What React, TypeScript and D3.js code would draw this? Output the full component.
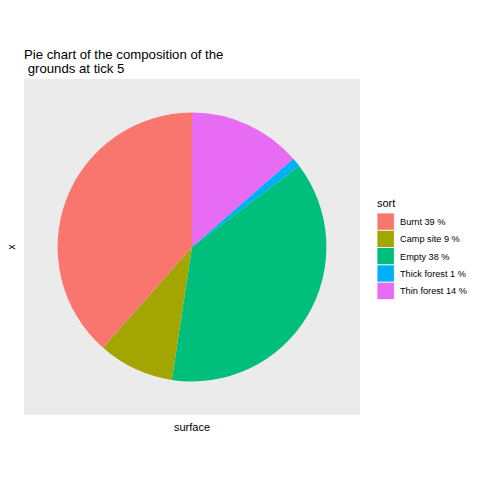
import React from "react";
import * as d3 from "d3";

// composition at tick 5 (legend order)
const sorts = ["Burnt", "Camp site", "Empty", "Thick forest", "Thin forest"];
const shares = [38.5, 9.1, 37.7, 1.1, 13.6];
const legendLabels = ["Burnt 39 %", "Camp site 9 %", "Empty 38 %", "Thick forest 1 %", "Thin forest 14 %"];
const colors = ["#F8766D", "#A3A500", "#00BF7D", "#00B0F6", "#E76BF3"];

const font = "'Liberation Sans', Arial, sans-serif";

export default function App() {
  const panel = { x: 24, y: 79, w: 336, h: 336 };
  const cx = panel.x + panel.w / 2;
  const cy = panel.y + panel.h / 2;
  const radius = panel.w * 0.4;

  // ggplot stacks the last level first, going clockwise from the top
  const rows = sorts.map((s, i) => ({ sort: s, value: shares[i], color: colors[i] })).reverse();
  const arcs = d3.pie<any>().value((d) => d.value).sort(null)(rows);
  const arcGen = d3.arc<any>().innerRadius(0).outerRadius(radius);

  const color = d3.scaleOrdinal<string, string>().domain(sorts).range(colors);
  const keyY = d3.scaleBand().domain(sorts).range([213, 299.5]).paddingInner(0);

  return (
    <svg width={480} height={480} style={{ position: "absolute", left: 0, top: 0, background: "#fff" }}>
      <text x={24} y={59} fontFamily={font} fontSize={13.2} fill="#000">
        Pie chart of the composition of the
      </text>
      <text x={24} y={72.5} fontFamily={font} fontSize={13.2} fill="#000" style={{ whiteSpace: "pre" }}>
        {" grounds at tick 5"}
      </text>

      <rect x={panel.x} y={panel.y} width={panel.w} height={panel.h} fill="#EBEBEB" />
      <g transform={`translate(${cx},${cy})`}>
        {arcs.map((a, i) => (
          <path key={i} d={arcGen(a) || undefined} fill={a.data.color} />
        ))}
      </g>

      <text x={cx} y={430.5} textAnchor="middle" fontFamily={font} fontSize={11} fill="#000">
        surface
      </text>
      <text
        transform={`translate(15,${cy}) rotate(-90)`}
        textAnchor="middle"
        fontFamily={font}
        fontSize={11}
        fill="#000"
      >
        x
      </text>

      <text x={377} y={207} fontFamily={font} fontSize={11} fill="#000">
        sort
      </text>
      {sorts.map((s, i) => (
        <g key={s}>
          <rect
            x={377}
            y={keyY(s)!}
            width={17.3}
            height={keyY.bandwidth()}
            fill={color(s)}
            stroke="#fff"
            strokeWidth={0.8}
          />
          <text
            x={400}
            y={keyY(s)! + keyY.bandwidth() / 2 + 3.3}
            fontFamily={font}
            fontSize={9.2}
            fill="#000"
          >
            {legendLabels[i]}
          </text>
        </g>
      ))}
    </svg>
  );
}
